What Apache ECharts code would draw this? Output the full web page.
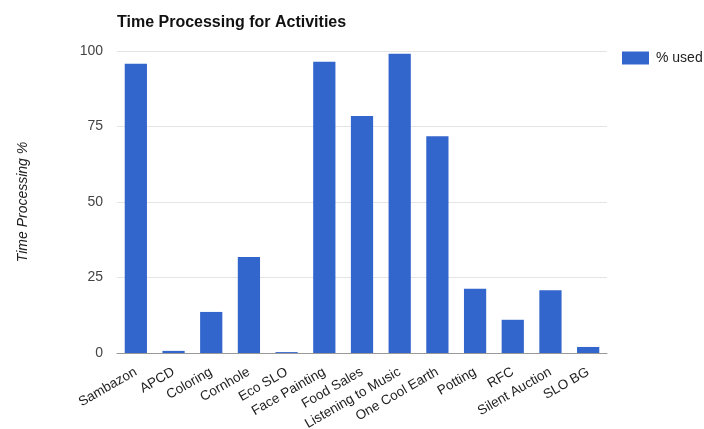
<!DOCTYPE html>
<html><head><meta charset="utf-8">
<script src="https://cdn.jsdelivr.net/npm/echarts@6/dist/echarts.min.js"></script>
<style>html,body{margin:0;padding:0;background:#fff}#c{width:704px;height:429px}</style>
</head><body><div id="c"></div>
<script>
const categories = ["Sambazon","APCD","Coloring","Cornhole","Eco SLO","Face Painting","Food Sales","Listening to Music","One Cool Earth","Potting","RFC","Silent Auction","SLO BG"];
const usedValues = [95.8,0.7,13.6,31.8,0.3,96.4,78.5,99.1,71.8,21.3,11,20.8,2];
const yTicks = [0,25,50,75,100];
const seriesName = "% used";
const chart = echarts.init(document.getElementById('c'), null, {renderer:'canvas'});
const F = 'Liberation Sans, Arial, sans-serif';
chart.setOption({
  animation:false,
  textStyle:{fontFamily:F},
  title:{text:'Time Processing for Activities',left:112,top:10,textStyle:{fontSize:16,fontWeight:'bold',color:'#111',fontFamily:F}},
  legend:{data:[seriesName],left:617,top:46,orient:'vertical',itemWidth:27,itemHeight:13,itemGap:8,
    textStyle:{fontSize:14,color:'#222',fontFamily:F,padding:[0,0,0,2]},icon:'rect'},
  grid:{left:117,right:97,top:51,bottom:76,containLabel:false,outerBoundsMode:'none'},
  xAxis:{type:'category',data:categories,
    axisLine:{lineStyle:{color:'#999',width:1}},axisTick:{show:false},
    axisLabel:{rotate:30,fontSize:13.5,color:'#222',interval:0,margin:18,fontFamily:F}},
  yAxis:{type:'value',min:yTicks[0],max:yTicks[yTicks.length-1],interval:25,
    name:'Time Processing %',nameLocation:'middle',nameGap:87,
    nameTextStyle:{fontSize:14,fontStyle:'italic',color:'#222',fontFamily:F},
    axisLine:{show:false},axisTick:{show:false},
    axisLabel:{fontSize:14,color:'#444',margin:14,fontFamily:F},
    splitLine:{lineStyle:{color:'#e4e4e4',width:1}}},
  series:[{name:seriesName,type:'bar',data:usedValues,barCategoryGap:'41%',
    itemStyle:{color:'#3366cc'}}]
});
</script></body></html>
